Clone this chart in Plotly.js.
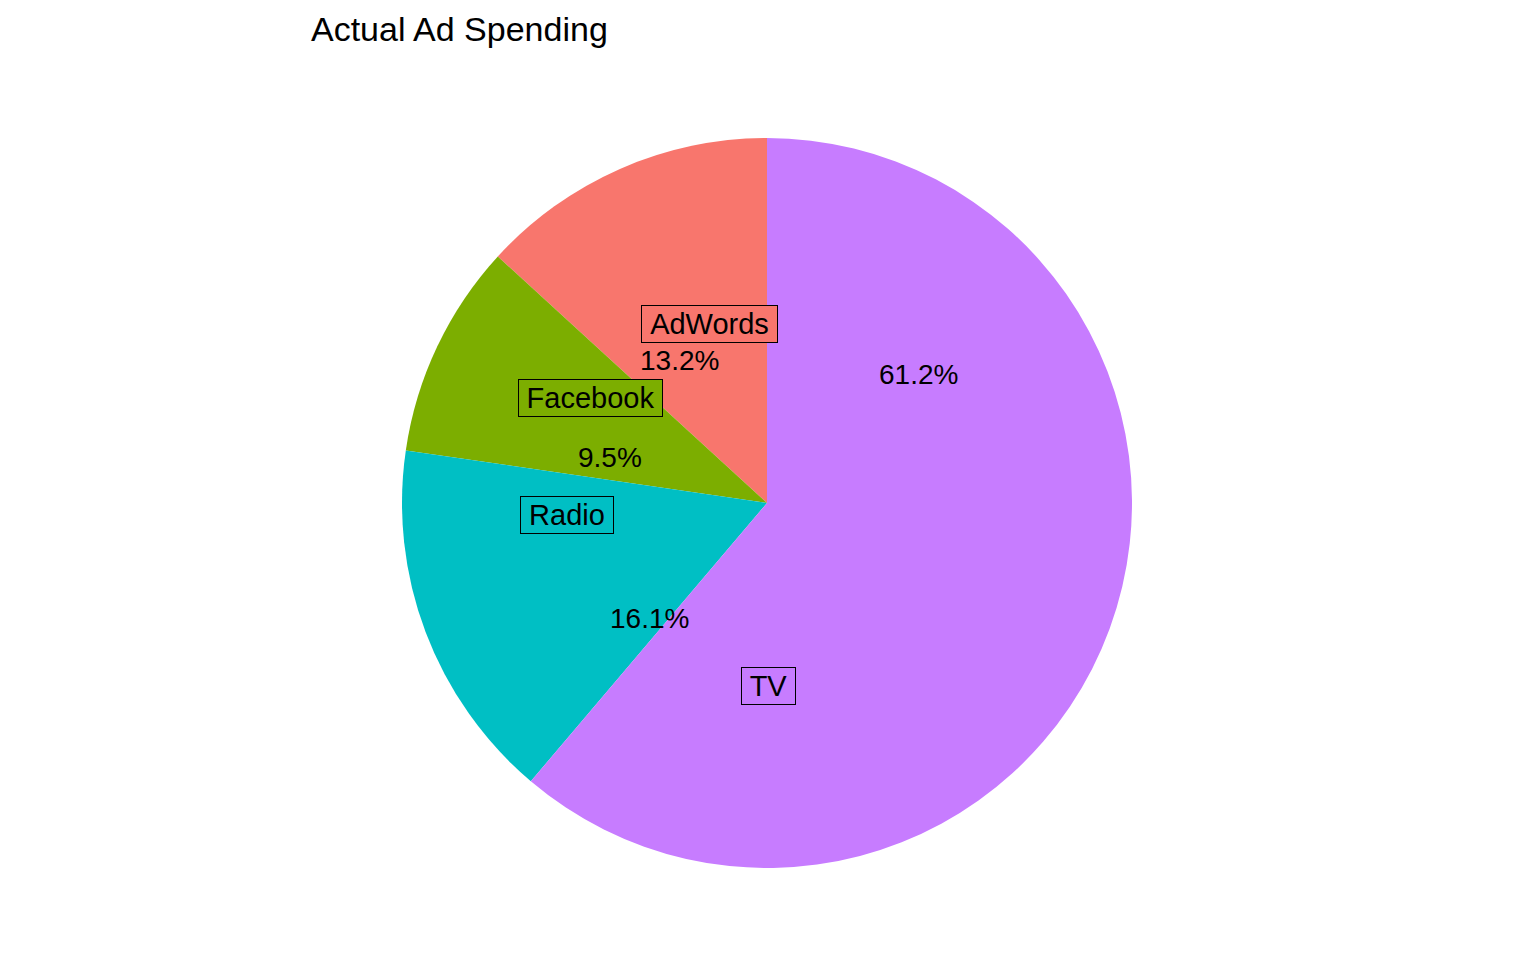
<!DOCTYPE html>
<html>
<head>
<meta charset="utf-8">
<script src="https://cdn.plot.ly/plotly-3.0.1.min.js"></script>
<style>html,body{margin:0;padding:0;background:#fff;} #chart{width:1536px;height:960px;}</style>
</head>
<body>
<div id="chart"></div>
<script>
// Data
var categories = ["AdWords", "Facebook", "Radio", "TV"];
var shares = [13.2, 9.5, 16.1, 61.2];
var percentLabels = ["13.2%", "9.5%", "16.1%", "61.2%"];

// Styling / layout config
var colors = ["#F8766D", "#7CAE00", "#00BFC4", "#C77CFF"];
var W = 1536, H = 960;
var cx = 767, cy = 503, R = 365;   // pie center & radius in px
// label placement (pixel offsets from pie center), as drawn in the reference
var pctOffsets = [[-88, -142], [-157, -46], [-118, 115], [151, -129]];
var boxOffsets = [[-58, -179], [-177, -105], [-200, 12], [1, 183]];
var FONT = 'Liberation Sans, Arial, sans-serif';
var pctSize = 28, boxSize = 29;

function px2x(p) { return p / W; }
function px2y(p) { return 1 - p / H; }

var ctx = document.createElement('canvas').getContext('2d');
ctx.font = boxSize + 'px "Liberation Sans"';
function textW(s) { return ctx.measureText(s).width; }

var total = shares.reduce(function (a, b) { return a + b; }, 0);
// in counterclockwise mode Plotly ends the first slice at `rotation`,
// so shift by the first slice so that it starts at 12 o'clock
var rot = -shares[0] / total * 360;

var trace = {
  type: 'pie',
  labels: categories,
  values: shares,
  sort: false,
  direction: 'counterclockwise',
  rotation: rot,
  textinfo: 'none',
  hoverinfo: 'label+percent',
  marker: { colors: colors, line: { width: 0 } },
  domain: { x: [px2x(cx - R), px2x(cx + R)], y: [px2y(cy + R), px2y(cy - R)] },
  showlegend: false
};

var annotations = [];
for (var i = 0; i < categories.length; i++) {
  annotations.push({
    xref: 'paper', yref: 'paper',
    x: px2x(cx + pctOffsets[i][0]), y: px2y(cy + pctOffsets[i][1]),
    xanchor: 'center', yanchor: 'middle',
    text: percentLabels[i], showarrow: false,
    font: { family: FONT, size: pctSize, color: '#000' }
  });
  annotations.push({
    xref: 'paper', yref: 'paper',
    x: px2x(cx + boxOffsets[i][0]), y: px2y(cy + boxOffsets[i][1]),
    xanchor: 'center', yanchor: 'middle',
    text: categories[i], showarrow: false,
    font: { family: FONT, size: boxSize, color: '#000' },
    width: Math.round(textW(categories[i]) + 12), align: 'center',
    bgcolor: colors[i], bordercolor: '#000', borderwidth: 1, borderpad: 2
  });
}

var layout = {
  width: W, height: H,
  margin: { l: 0, r: 0, t: 0, b: 0 },
  paper_bgcolor: '#fff',
  title: {
    text: 'Actual Ad Spending',
    x: px2x(311), xanchor: 'left', xref: 'paper',
    y: px2y(29), yanchor: 'middle', yref: 'paper',
    font: { family: FONT, size: 34, color: '#000' }
  },
  annotations: annotations
};

Plotly.newPlot('chart', [trace], layout, { displayModeBar: false });
</script>
</body>
</html>
